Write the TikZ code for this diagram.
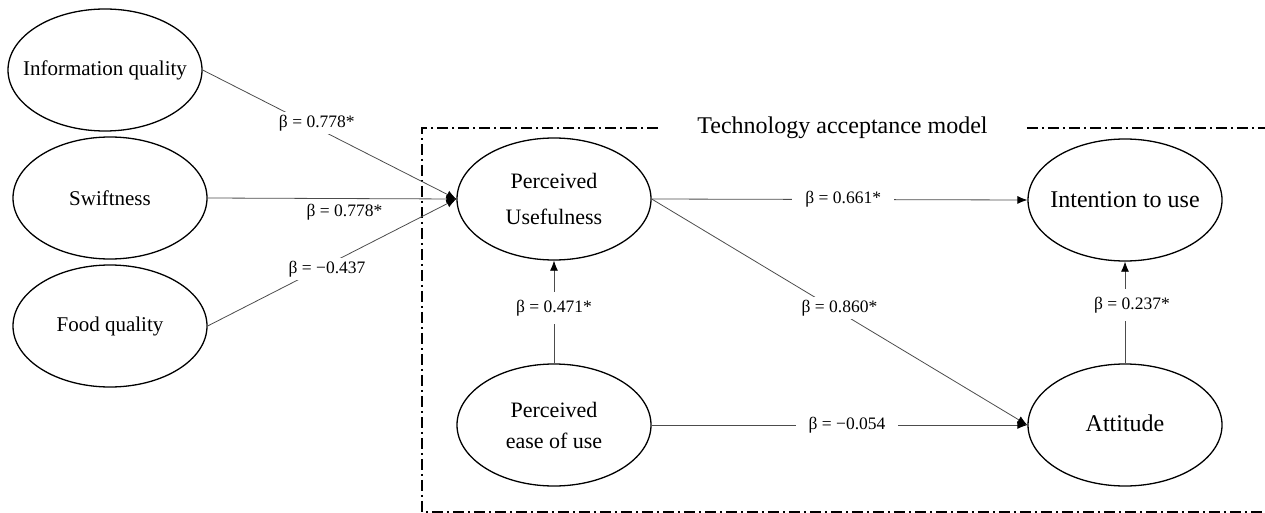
\documentclass[tikz,border=0pt]{standalone}
\usepackage{fontspec}
\setmainfont{Liberation Serif}
\usetikzlibrary{arrows.meta,shapes.geometric}
\begin{document}
\begin{tikzpicture}[x=1pt,y=-1pt,
  construct/.style={draw,line width=1.3pt,ellipse,minimum width=194pt,minimum height=122pt,inner xsep=-30pt,inner ysep=0pt,align=center},
  link/.style={draw=black!70,line width=0.8pt,-{Latex[length=10pt,width=8pt,black]}},
  beta/.style={fill=white,inner xsep=13pt,inner ysep=3pt,font=\fontsize{17.5}{20}\selectfont},
  tambox/.style={line width=1.3pt,dash pattern=on 11pt off 4pt on 2pt off 4pt}]
\useasboundingbox (0,0) rectangle (1265,513);
\node[construct,font=\fontsize{21}{24}\selectfont] (iq) at (105,70) {Information quality};
\node[construct,font=\fontsize{21}{24}\selectfont] (sw) at (110,198) {Swiftness};
\node[construct,font=\fontsize{21}{24}\selectfont] (fq) at (110,326) {Food quality};
\node[construct,font=\fontsize{22}{36}\selectfont] (pu) at (554,199) {Perceived\\Usefulness};
\node[construct,font=\fontsize{22}{31}\selectfont] (pe) at (554,425) {Perceived\\ease of use};
\node[construct,font=\fontsize{24}{28}\selectfont] (iu) at (1125,200) {Intention to use};
\node[construct,font=\fontsize{24}{28}\selectfont] (att) at (1125,425) {\raisebox{3pt}{Attitude}};
\node[font=\fontsize{24}{28}\selectfont,inner xsep=39pt,inner ysep=0pt] (tam) at (842.5,128) {Technology acceptance model};
\draw[tambox] (tam.west) -- (422,128) -- (422,512) -- (1265,512);
\draw[tambox] (tam.east) -- (1265,128);
\draw[link] (iq.east) -- node[beta,pos=0.45,yshift=5pt] (b1) {β = 0.778*} (pu.west);
\draw[link] (sw.east) -- node[beta,fill=none,pos=0.55,yshift=-14pt] (b2) {β = 0.778*} (pu.west);
\draw[link] (fq.east) -- node[beta,pos=0.48,yshift=-4pt] (b3) {β = −0.437} (pu.west);
\draw[link] (pe.north) -- node[beta,inner xsep=3pt,inner ysep=8pt,pos=0.54] (b4) {β = 0.471*} (pu.south);
\draw[link] (pu.east) -- node[beta,pos=0.51] (b5) {β = 0.661*} (iu.west);
\draw[link] (pu.east) -- node[beta,pos=0.5,yshift=4pt] (b6) {β = 0.860*} (att.west);
\draw[link] (pe.east) -- node[beta,pos=0.52] (b7) {β = −0.054} (att.west);
\draw[link] (att.north) -- node[beta,inner xsep=3pt,inner ysep=8pt,pos=0.57,xshift=7pt] (b8) {β = 0.237*} (iu.south);
\end{tikzpicture}
\end{document}
